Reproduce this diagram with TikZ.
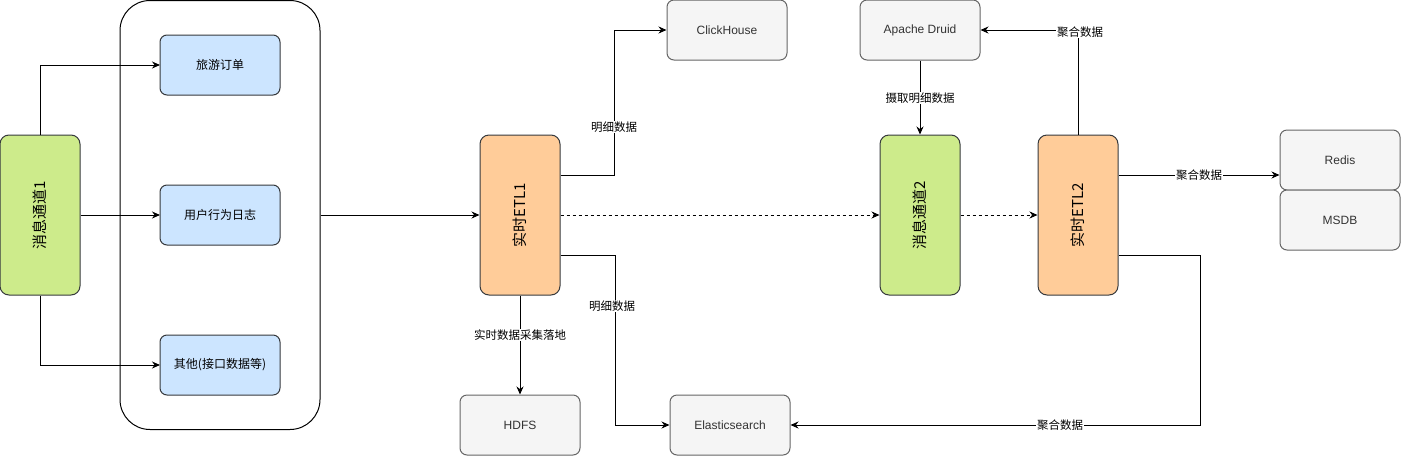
\documentclass[tikz,border=0pt]{standalone}
\usepackage{fontspec}
\setmainfont{Noto Sans CJK SC}
\newfontfamily\latinfont{Liberation Sans}
\usetikzlibrary{positioning}
\usetikzlibrary {arrows.meta}

\definecolor{chgreen}{HTML}{CDEB8B}
\definecolor{etlorange}{HTML}{FFCC99}
\definecolor{srcblue}{HTML}{CCE5FF}
\definecolor{storegray}{HTML}{F5F5F5}
\definecolor{edgedark}{HTML}{36393D}
\definecolor{edgegray}{HTML}{666666}
\definecolor{txtgray}{HTML}{333333}

\tikzset{
  flow/.style={line width=1pt,-{Stealth[length=8pt,width=7pt]}},
  dflow/.style={flow,dash pattern=on 3pt off 3pt},
  tallbox/.style={draw=edgedark,line width=1pt,rounded corners=9pt,minimum width=80pt,minimum height=160pt,inner sep=0pt},
  srcbox/.style={draw=edgedark,line width=1pt,fill=srcblue,rounded corners=7pt,minimum width=120pt,minimum height=60pt,inner sep=0pt},
  storebox/.style={draw=edgegray,line width=1pt,fill=storegray,rounded corners=7pt,minimum width=120pt,minimum height=60pt,inner sep=0pt,text=txtgray},
  lbl/.style={fill=white,inner sep=1pt}
}

\begin{document}
\begin{tikzpicture}[x=1pt,y=-1pt]

\def\labfont{\fontsize{11.5}{13}\selectfont}
\def\boxfont{\fontsize{12}{14}\selectfont}
\def\bigfont{\fontsize{15}{18}\selectfont}

\useasboundingbox (0,0) rectangle (1401,456);

% source side
\node[draw=black,line width=1pt,fill=white,rounded corners=30pt,minimum width=200pt,minimum height=429pt,inner sep=0pt] (srcgroup) at (220,215) {};
\node[tallbox,fill=chgreen,font=\bigfont] (ch1) at (40,215) {\rotatebox{90}{消息通道1}};

\draw[flow] (ch1.north) |- (160,65);
\draw[flow] (ch1.east) -- (160,215);
\draw[flow] (ch1.south) |- (160,365);

\node[srcbox,font=\boxfont] (src1) at (220,65) {旅游订单};
\node[srcbox,font=\boxfont] (src2) at (220,215) {用户行为日志};
\node[srcbox,font=\boxfont] (src3) at (220,365) {其他(接口数据等)};

% etl 1
\node[tallbox,fill=etlorange,font=\bigfont] (etl1) at (520,215) {\rotatebox{90}{实时ETL1}};
\node[storebox,font=\boxfont\latinfont] (ck) at (727,30) {ClickHouse};
\node[storebox,font=\boxfont\latinfont] (hdfs) at (520,425) {HDFS};
\node[storebox,font=\boxfont\latinfont] (es) at (730,425) {Elasticsearch};

\draw[flow] (srcgroup.east) -- (etl1.west);
\draw[flow] ([yshift=40pt]etl1.east) -- ++(54,0) |- (ck.west);
\draw[flow] ([yshift=-40pt]etl1.east) -- ++(55,0) |- (es.west);
\draw[flow] (etl1.south) -- (hdfs.north);

\node[lbl,font=\labfont] (l1) at (614,127) {明细数据};
\node[lbl,font=\labfont] (l2) at (612,306) {明细数据};
\node[lbl,font=\labfont] (l3) at (520,335) {实时数据采集落地};

% channel 2 and etl 2
\node[storebox,font=\boxfont\latinfont] (druid) at (920,30) {Apache Druid};
\node[tallbox,fill=chgreen,font=\bigfont] (ch2) at (920,215) {\rotatebox{90}{消息通道2}};
\node[tallbox,fill=etlorange,font=\bigfont] (etl2) at (1078,215) {\rotatebox{90}{实时ETL2}};
\node[storebox,font=\boxfont\latinfont] (redis) at (1340,160) {Redis};
\node[storebox,font=\boxfont\latinfont] (msdb) at (1340,220) {MSDB};

\draw[dflow] (etl1.east) -- (ch2.west);
\draw[dflow] (ch2.east) -- (etl2.west);
\draw[flow] (druid.south) -- (ch2.north);
\draw[flow] (etl2.north) |- (druid.east);
\draw[flow] ([yshift=40pt]etl2.east) -- ([yshift=-15pt]redis.west);
\draw[flow] ([yshift=-40pt]etl2.east) -- ++(82,0) |- (es.east);

\node[lbl,font=\labfont] (l4) at (920,98) {摄取明细数据};
\node[lbl,font=\labfont] (l5) at (1080,32) {聚合数据};
\node[lbl,font=\labfont] (l6) at (1199,175) {聚合数据};
\node[lbl,font=\labfont] (l7) at (1060,425) {聚合数据};

\end{tikzpicture}
\end{document}
